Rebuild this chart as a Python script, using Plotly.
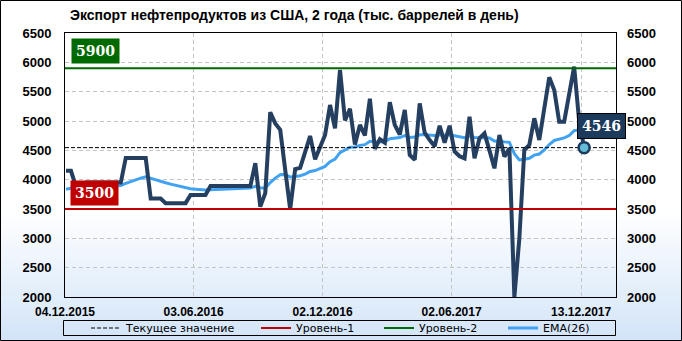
import plotly.graph_objects as go

title_text = "Экспорт нефтепродуктов из США, 2 года (тыс. баррелей в день)"

exports = [4150, 4150, 3880, 3880, 3950, 3950, 3950, 3950, 3950, 3950,
           3950, 3950, 4370, 4370, 4370, 4370, 4370, 3680, 3680, 3680,
           3600, 3600, 3600, 3600, 3600, 3740, 3740, 3740, 3740, 3890,
           3890, 3890, 3890, 3890, 3890, 3890, 3890, 3890, 4280, 3540,
           3770, 5150, 4960, 4850, 4170, 3495, 4180, 4200, 4470, 4744,
           4347, 4574, 4761, 5273, 4876, 5869, 5010, 5210, 4600, 4932,
           4755, 5380, 4525, 4690, 4630, 5320, 4932, 4770, 5188, 4420,
           4340, 5300, 4800, 4676, 4570, 4920, 4630, 4920, 4480, 4400,
           4364, 5074, 4364, 4705, 4790, 4500, 4193, 4761, 4392, 4534,
           2000, 3000, 4506, 4591, 5046, 4676, 5200, 5745, 5528, 4988,
           4988, 5450, 5926, 5000, 4546]

ema26 = [3836, 3855, 3858, 3860, 3866, 3872, 3878, 3883, 3888, 3893,
         3897, 3901, 3936, 3968, 3998, 4025, 4050, 4022, 3997, 3975,
         3948, 3924, 3901, 3881, 3862, 3844, 3837, 3830, 3824, 3829,
         3834, 3838, 3841, 3845, 3848, 3851, 3853, 3856, 3887, 3862,
         3856, 3951, 4026, 4085, 4090, 4046, 4055, 4067, 4094, 4140,
         4156, 4186, 4227, 4305, 4349, 4462, 4502, 4554, 4557, 4585,
         4597, 4654, 4644, 4648, 4648, 4697, 4714, 4718, 4751, 4720,
         4726, 4764, 4766, 4757, 4753, 4766, 4756, 4765, 4754, 4732,
         4716, 4743, 4718, 4717, 4722, 4709, 4657, 4665, 4644, 4636,
         4441, 4335, 4347, 4365, 4418, 4437, 4506, 4598, 4668, 4692,
         4711, 4752, 4836, 4848, 4835]

tick_labels = ["04.12.2015", "03.06.2016", "02.12.2016", "02.06.2017", "13.12.2017"]
tick_index = [-0.2, 25.6, 51.5, 77.4, 103.4]

level_1 = 3500
level_2 = 5900

week = list(range(len(exports)))
current = exports[-1]

X_RANGE = [-0.2, 110.4]
Y_RANGE = [2000, 6500]

# plot area in pixels (for paper-coordinate helpers)
W, H = 682, 341
L, R, T, B = 65, 616, 33, 297


def px_x(p):
    return (p - L) / (R - L)


def px_y(p):
    return (B - p) / (B - T)


DARK = "#243f60"
EMA_C = "#42a2f2"
RED = "#c00000"
GREEN = "#006a00"
NAVY = "#1b3a5c"
TICKFONT = dict(family="Liberation Sans, Arial, sans-serif", size=13, color="black", weight="bold")

fig = go.Figure()

fig.add_trace(go.Scatter(x=week, y=ema26, mode="lines", name="EMA(26)",
                         line=dict(color=EMA_C, width=3), legend="legend4",
                         hoverinfo="skip"))
fig.add_trace(go.Scatter(x=week, y=exports, mode="lines", name="Экспорт",
                         line=dict(color=DARK, width=4), showlegend=False,
                         hoverinfo="skip"))
fig.add_trace(go.Scatter(x=X_RANGE, y=[current, current], mode="lines",
                         name="Текущее значение",
                         line=dict(color="black", width=1, dash="4px,2px"),
                         legend="legend", hoverinfo="skip"))
fig.add_trace(go.Scatter(x=X_RANGE, y=[level_1, level_1], mode="lines",
                         name="Уровень-1", line=dict(color=RED, width=2),
                         legend="legend2", hoverinfo="skip"))
fig.add_trace(go.Scatter(x=X_RANGE, y=[level_2, level_2], mode="lines",
                         name="Уровень-2", line=dict(color=GREEN, width=2),
                         legend="legend3", hoverinfo="skip"))
fig.add_trace(go.Scatter(x=[week[-1]], y=[current], mode="markers", yaxis="y2",
                         marker=dict(size=11, color="#63bcd8",
                                     line=dict(color=NAVY, width=2.5)),
                         showlegend=False, hoverinfo="skip"))

shapes = []
# background gradient (white -> light blue towards bottom)
top_g, bot_g = 210, 341
n = 33
c0 = (255, 255, 255)
c1 = (210, 228, 248)
for k in range(n):
    y0 = top_g + (bot_g - top_g) * k / n
    y1 = top_g + (bot_g - top_g) * (k + 1) / n
    t = (k + 0.5) / n
    col = tuple(round(c0[j] + (c1[j] - c0[j]) * t) for j in range(3))
    shapes.append(dict(type="rect", xref="paper", yref="paper", layer="below",
                       x0=px_x(0), x1=px_x(W), y0=px_y(y1 + 0.5), y1=px_y(y0),
                       line=dict(width=0), fillcolor="rgb(%d,%d,%d)" % col))
# outer frame
shapes.append(dict(type="rect", xref="paper", yref="paper", layer="above",
                   x0=px_x(0.5), x1=px_x(W - 0.5), y0=px_y(H - 0.5), y1=px_y(0.5),
                   line=dict(color="black", width=1), fillcolor="rgba(0,0,0,0)"))
# legend frame
shapes.append(dict(type="rect", xref="paper", yref="paper", layer="above",
                   x0=px_x(63.5), x1=px_x(615.5), y0=px_y(335.5), y1=px_y(320.5),
                   line=dict(color="black", width=1), fillcolor="rgba(0,0,0,0)"))

BOXFONT = dict(family="DejaVu Serif, serif", size=14, color="white")
annotations = [
    dict(text="<b>%s</b>" % title_text, xref="paper", yref="paper",
         x=px_x(68), y=px_y(15), xanchor="left", yanchor="middle", showarrow=False,
         font=dict(family="Liberation Sans, Arial, sans-serif", size=14, color="black")),
    dict(text="<b>%d</b>" % level_2, xref="paper", yref="y", x=px_x(71), y=level_2,
         xanchor="left", yanchor="bottom", yshift=4, showarrow=False,
         bgcolor=GREEN, borderpad=4, font=BOXFONT),
    dict(text="<b>%d</b>" % level_1, xref="paper", yref="y", x=px_x(70), y=level_1,
         xanchor="left", yanchor="bottom", yshift=3, showarrow=False,
         bgcolor=RED, borderpad=4, font=BOXFONT),
    dict(text="<b>%d</b>" % current, xref="x", yref="y", x=week[-1], y=current,
         xshift=17, yshift=22, showarrow=False, bgcolor=NAVY,
         bordercolor="black", borderwidth=1, borderpad=4, font=BOXFONT),
]

LEGFONT = dict(family="DejaVu Sans, sans-serif", size=11, color="black")


def leg(px_left):
    return dict(orientation="h", x=px_x(px_left), xanchor="left",
                y=px_y(328), yanchor="middle", bgcolor="rgba(0,0,0,0)",
                borderwidth=0, font=LEGFONT)


fig.update_layout(
    width=W, height=H,
    margin=dict(l=L, r=W - R, t=T, b=H - B, autoexpand=False),
    paper_bgcolor="white", plot_bgcolor="rgba(0,0,0,0)",
    shapes=shapes, annotations=annotations,
    showlegend=True,
    legend=leg(86), legend2=leg(256), legend3=leg(379), legend4=leg(503),
    xaxis=dict(range=X_RANGE, tickvals=tick_index, ticktext=tick_labels,
               showgrid=True, gridcolor="#c4c4c4", griddash="4px,3px", gridwidth=1,
               showline=True, linecolor="black", linewidth=1, mirror=True,
               zeroline=False, ticks="", ticklabelstandoff=4,
               tickfont=dict(family="Liberation Sans, Arial, sans-serif", size=12,
                             color="black", weight="bold")),
    yaxis=dict(range=Y_RANGE, dtick=500, tick0=2000,
               showgrid=True, gridcolor="#c4c4c4", griddash="4px,3px", gridwidth=1,
               showline=True, linecolor="black", linewidth=1, mirror=True,
               zeroline=False, ticks="", ticklabelstandoff=10, tickfont=TICKFONT),
    yaxis2=dict(range=Y_RANGE, dtick=500, tick0=2000, overlaying="y", side="right",
                showgrid=False, zeroline=False, showline=False, ticks="",
                ticklabelstandoff=10, tickfont=TICKFONT),
)

fig.write_html("out.html")
